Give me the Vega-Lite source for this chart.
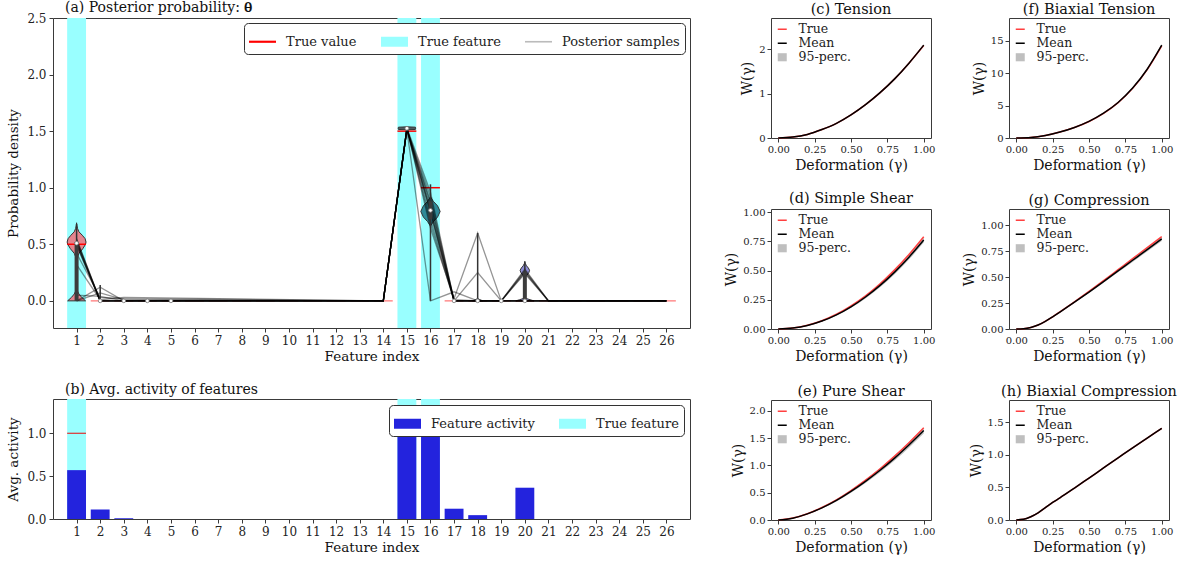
{
"$schema": "https://vega.github.io/schema/vega-lite/v6.json",
"padding": {"left": 6, "top": 0, "right": 4, "bottom": 2},
"config": {
 "font": "DejaVu Serif",
 "view": {"stroke": "#3a3a3a", "strokeWidth": 1},
 "axis": {"grid": false, "domain": false, "tickColor": "#3a3a3a", "tickSize": 4, "labelColor": "#222", "titleColor": "#111", "labelFont": "DejaVu Serif", "titleFont": "DejaVu Serif", "titleFontWeight": "normal", "labelFontSize": 10, "titleFontSize": 14, "labelPadding": 2, "titlePadding": 4, "labelFlush": false, "labelOverlap": false, "tickCount": 40},
 "title": {"font": "DejaVu Serif", "fontWeight": "normal", "fontSize": 14.5, "color": "#111", "offset": 1, "frame": "group"},
 "legend": {"labelFont": "DejaVu Serif", "labelColor": "#222"}
},
"datasets": {
 "truth": [{"f":1,"v":0.5},{"f":2,"v":0},{"f":3,"v":0},{"f":4,"v":0},{"f":5,"v":0},{"f":6,"v":0},{"f":7,"v":0},{"f":8,"v":0},{"f":9,"v":0},{"f":10,"v":0},{"f":11,"v":0},{"f":12,"v":0},{"f":13,"v":0},{"f":14,"v":0},{"f":15,"v":1.5},{"f":16,"v":1.0},{"f":17,"v":0},{"f":18,"v":0},{"f":19,"v":0},{"f":20,"v":0},{"f":21,"v":0},{"f":22,"v":0},{"f":23,"v":0},{"f":24,"v":0},{"f":25,"v":0},{"f":26,"v":0}],
 "truefeat": [{"f":1},{"f":15},{"f":16}],
 "samples": [
  {"s":1,"f":1,"v":0.52},{"s":1,"f":2,"v":0},{"s":1,"f":3,"v":0},{"s":1,"f":14,"v":0},{"s":1,"f":15,"v":1.52},{"s":1,"f":16,"v":0.8},{"s":1,"f":17,"v":0},{"s":1,"f":18,"v":0},{"s":1,"f":19,"v":0},{"s":1,"f":20,"v":0},{"s":1,"f":21,"v":0},{"s":1,"f":26,"v":0},
  {"s":2,"f":1,"v":0.5},{"s":2,"f":2,"v":0},{"s":2,"f":3,"v":0},{"s":2,"f":14,"v":0},{"s":2,"f":15,"v":1.52},{"s":2,"f":16,"v":0.77},{"s":2,"f":17,"v":0},{"s":2,"f":18,"v":0},{"s":2,"f":19,"v":0},{"s":2,"f":20,"v":0.25},{"s":2,"f":21,"v":0},{"s":2,"f":26,"v":0},
  {"s":3,"f":1,"v":0.55},{"s":3,"f":2,"v":0},{"s":3,"f":3,"v":0},{"s":3,"f":14,"v":0},{"s":3,"f":15,"v":1.52},{"s":3,"f":16,"v":0.86},{"s":3,"f":17,"v":0},{"s":3,"f":18,"v":0},{"s":3,"f":19,"v":0},{"s":3,"f":20,"v":0},{"s":3,"f":21,"v":0},{"s":3,"f":26,"v":0},
  {"s":4,"f":1,"v":0.53},{"s":4,"f":2,"v":0},{"s":4,"f":3,"v":0},{"s":4,"f":14,"v":0},{"s":4,"f":15,"v":1.52},{"s":4,"f":16,"v":0.72},{"s":4,"f":17,"v":0},{"s":4,"f":18,"v":0},{"s":4,"f":19,"v":0},{"s":4,"f":20,"v":0.26},{"s":4,"f":21,"v":0},{"s":4,"f":26,"v":0},
  {"s":5,"f":1,"v":0.49},{"s":5,"f":2,"v":0},{"s":5,"f":3,"v":0},{"s":5,"f":14,"v":0},{"s":5,"f":15,"v":1.52},{"s":5,"f":16,"v":0.92},{"s":5,"f":17,"v":0},{"s":5,"f":18,"v":0},{"s":5,"f":19,"v":0},{"s":5,"f":20,"v":0},{"s":5,"f":21,"v":0},{"s":5,"f":26,"v":0},
  {"s":6,"f":1,"v":0.51},{"s":6,"f":2,"v":0},{"s":6,"f":3,"v":0},{"s":6,"f":14,"v":0},{"s":6,"f":15,"v":1.52},{"s":6,"f":16,"v":0.83},{"s":6,"f":17,"v":0},{"s":6,"f":18,"v":0},{"s":6,"f":19,"v":0},{"s":6,"f":20,"v":0.24},{"s":6,"f":21,"v":0},{"s":6,"f":26,"v":0},
  {"s":7,"f":1,"v":0},{"s":7,"f":2,"v":0.12},{"s":7,"f":3,"v":0},{"s":7,"f":14,"v":0},{"s":7,"f":15,"v":1.52},{"s":7,"f":16,"v":0.68},{"s":7,"f":17,"v":0},{"s":7,"f":18,"v":0},{"s":7,"f":19,"v":0},{"s":7,"f":20,"v":0},{"s":7,"f":21,"v":0},{"s":7,"f":26,"v":0},
  {"s":8,"f":1,"v":0},{"s":8,"f":2,"v":0.07},{"s":8,"f":3,"v":0.01},{"s":8,"f":14,"v":0},{"s":8,"f":15,"v":1.53},{"s":8,"f":16,"v":0.96},{"s":8,"f":17,"v":0},{"s":8,"f":18,"v":0},{"s":8,"f":19,"v":0},{"s":8,"f":20,"v":0.28},{"s":8,"f":21,"v":0},{"s":8,"f":26,"v":0},
  {"s":9,"f":1,"v":0.42},{"s":9,"f":2,"v":0.03},{"s":9,"f":3,"v":0.02},{"s":9,"f":14,"v":0},{"s":9,"f":15,"v":1.52},{"s":9,"f":16,"v":0.64},{"s":9,"f":17,"v":0.02},{"s":9,"f":18,"v":0.6},{"s":9,"f":19,"v":0},{"s":9,"f":20,"v":0},{"s":9,"f":21,"v":0},{"s":9,"f":26,"v":0},
  {"s":10,"f":1,"v":0.32},{"s":10,"f":2,"v":0.01},{"s":10,"f":3,"v":0.03},{"s":10,"f":14,"v":0},{"s":10,"f":15,"v":1.51},{"s":10,"f":16,"v":0},{"s":10,"f":17,"v":0.08},{"s":10,"f":18,"v":0},{"s":10,"f":19,"v":0},{"s":10,"f":20,"v":0},{"s":10,"f":21,"v":0},{"s":10,"f":26,"v":0},
  {"s":11,"f":1,"v":0.54},{"s":11,"f":2,"v":0},{"s":11,"f":3,"v":0},{"s":11,"f":14,"v":0},{"s":11,"f":15,"v":1.52},{"s":11,"f":16,"v":0.79},{"s":11,"f":17,"v":0},{"s":11,"f":18,"v":0.25},{"s":11,"f":19,"v":0},{"s":11,"f":20,"v":0},{"s":11,"f":21,"v":0},{"s":11,"f":26,"v":0},
  {"s":12,"f":1,"v":0.05},{"s":12,"f":2,"v":0.04},{"s":12,"f":3,"v":0},{"s":12,"f":14,"v":0},{"s":12,"f":15,"v":1.52},{"s":12,"f":16,"v":0.88},{"s":12,"f":17,"v":0.01},{"s":12,"f":18,"v":0},{"s":12,"f":19,"v":0},{"s":12,"f":20,"v":0.27},{"s":12,"f":21,"v":0},{"s":12,"f":26,"v":0}
 ],
 "violin": [
  {"vid":1,"f":1,"y":0,"hw":0.38},{"vid":1,"f":1,"y":0.03,"hw":0.22},{"vid":1,"f":1,"y":0.06,"hw":0.1},{"vid":1,"f":1,"y":0.09,"hw":0.03},{"vid":1,"f":1,"y":0.12,"hw":0.008},{"vid":1,"f":1,"y":0.3,"hw":0.004},{"vid":1,"f":1,"y":0.38,"hw":0.02},{"vid":1,"f":1,"y":0.42,"hw":0.1},{"vid":1,"f":1,"y":0.46,"hw":0.26},{"vid":1,"f":1,"y":0.5,"hw":0.38},{"vid":1,"f":1,"y":0.52,"hw":0.4},{"vid":1,"f":1,"y":0.55,"hw":0.36},{"vid":1,"f":1,"y":0.58,"hw":0.24},{"vid":1,"f":1,"y":0.61,"hw":0.1},{"vid":1,"f":1,"y":0.64,"hw":0.04},{"vid":1,"f":1,"y":0.67,"hw":0.01},{"vid":1,"f":1,"y":0.69,"hw":0},
  {"vid":15,"f":15,"y":1.512,"hw":0},{"vid":15,"f":15,"y":1.515,"hw":0.36},{"vid":15,"f":15,"y":1.525,"hw":0.37},{"vid":15,"f":15,"y":1.535,"hw":0.36},{"vid":15,"f":15,"y":1.538,"hw":0},
  {"vid":16,"f":16,"y":0.66,"hw":0},{"vid":16,"f":16,"y":0.7,"hw":0.12},{"vid":16,"f":16,"y":0.74,"hw":0.3},{"vid":16,"f":16,"y":0.79,"hw":0.41},{"vid":16,"f":16,"y":0.84,"hw":0.3},{"vid":16,"f":16,"y":0.88,"hw":0.12},{"vid":16,"f":16,"y":0.92,"hw":0},
  {"vid":18,"f":18,"y":0,"hw":0.22},{"vid":18,"f":18,"y":0.01,"hw":0.1},{"vid":18,"f":18,"y":0.02,"hw":0},
  {"vid":20,"f":20,"y":0,"hw":0.38},{"vid":20,"f":20,"y":0.01,"hw":0.22},{"vid":20,"f":20,"y":0.02,"hw":0.07},{"vid":20,"f":20,"y":0.03,"hw":0.01},{"vid":20,"f":20,"y":0.2,"hw":0.005},{"vid":20,"f":20,"y":0.22,"hw":0.06},{"vid":20,"f":20,"y":0.25,"hw":0.17},{"vid":20,"f":20,"y":0.27,"hw":0.2},{"vid":20,"f":20,"y":0.29,"hw":0.15},{"vid":20,"f":20,"y":0.31,"hw":0.07},{"vid":20,"f":20,"y":0.33,"hw":0.02},{"vid":20,"f":20,"y":0.35,"hw":0}
 ],
 "whisker": [{"f":1,"lo":0,"hi":0.68},{"f":2,"lo":0,"hi":0.14},{"f":15,"lo":1.5,"hi":1.545},{"f":16,"lo":0,"hi":1.03},{"f":18,"lo":0,"hi":0.6},{"f":20,"lo":0,"hi":0.34}],
 "box": [{"f":1,"lo":0,"hi":0.52},{"f":16,"lo":0.72,"hi":0.88},{"f":20,"lo":0,"hi":0.26}],
 "median": [{"f":1,"v":0.51},{"f":2,"v":0},{"f":3,"v":0},{"f":4,"v":0},{"f":5,"v":0},{"f":15,"v":1.525},{"f":16,"v":0.8},{"f":17,"v":0},{"f":18,"v":0},{"f":19,"v":0},{"f":20,"v":0}],
 "activity": [{"f":1,"v":0.57},{"f":2,"v":0.11},{"f":3,"v":0.01},{"f":4,"v":0},{"f":5,"v":0},{"f":6,"v":0},{"f":7,"v":0},{"f":8,"v":0},{"f":9,"v":0},{"f":10,"v":0},{"f":11,"v":0},{"f":12,"v":0},{"f":13,"v":0},{"f":14,"v":0},{"f":15,"v":1.0},{"f":16,"v":0.99},{"f":17,"v":0.12},{"f":18,"v":0.045},{"f":19,"v":0},{"f":20,"v":0.365},{"f":21,"v":0},{"f":22,"v":0},{"f":23,"v":0},{"f":24,"v":0},{"f":25,"v":0},{"f":26,"v":0}],
 "curves": [
  {"p":"c","g":0,"t":0,"m":0,"lo":0,"hi":0},{"p":"c","g":0.1,"t":0.02,"m":0.02,"lo":0.015,"hi":0.025},{"p":"c","g":0.2,"t":0.08,"m":0.08,"lo":0.075,"hi":0.085},{"p":"c","g":0.3,"t":0.19,"m":0.19,"lo":0.183,"hi":0.197},{"p":"c","g":0.4,"t":0.33,"m":0.33,"lo":0.322,"hi":0.338},{"p":"c","g":0.5,"t":0.52,"m":0.52,"lo":0.51,"hi":0.53},{"p":"c","g":0.6,"t":0.75,"m":0.75,"lo":0.74,"hi":0.76},{"p":"c","g":0.7,"t":1.02,"m":1.02,"lo":1.008,"hi":1.032},{"p":"c","g":0.8,"t":1.33,"m":1.33,"lo":1.316,"hi":1.344},{"p":"c","g":0.9,"t":1.69,"m":1.69,"lo":1.674,"hi":1.706},{"p":"c","g":1.0,"t":2.08,"m":2.09,"lo":2.07,"hi":2.11},
  {"p":"f","g":0,"t":0,"m":0,"lo":0,"hi":0},{"p":"f","g":0.1,"t":0.08,"m":0.08,"lo":0.07,"hi":0.09},{"p":"f","g":0.2,"t":0.38,"m":0.38,"lo":0.36,"hi":0.4},{"p":"f","g":0.3,"t":0.92,"m":0.92,"lo":0.89,"hi":0.95},{"p":"f","g":0.4,"t":1.62,"m":1.63,"lo":1.59,"hi":1.67},{"p":"f","g":0.5,"t":2.55,"m":2.56,"lo":2.51,"hi":2.61},{"p":"f","g":0.6,"t":3.8,"m":3.82,"lo":3.76,"hi":3.88},{"p":"f","g":0.7,"t":5.45,"m":5.48,"lo":5.41,"hi":5.55},{"p":"f","g":0.8,"t":7.65,"m":7.7,"lo":7.61,"hi":7.79},{"p":"f","g":0.9,"t":10.55,"m":10.6,"lo":10.49,"hi":10.71},{"p":"f","g":1.0,"t":14.2,"m":14.3,"lo":14.15,"hi":14.45},
  {"p":"d","g":0,"t":0,"m":0,"lo":0,"hi":0},{"p":"d","g":0.1,"t":0.008,"m":0.008,"lo":0.007,"hi":0.009},{"p":"d","g":0.2,"t":0.032,"m":0.03,"lo":0.028,"hi":0.032},{"p":"d","g":0.3,"t":0.071,"m":0.068,"lo":0.064,"hi":0.072},{"p":"d","g":0.4,"t":0.126,"m":0.121,"lo":0.115,"hi":0.127},{"p":"d","g":0.5,"t":0.198,"m":0.19,"lo":0.181,"hi":0.198},{"p":"d","g":0.6,"t":0.284,"m":0.274,"lo":0.262,"hi":0.285},{"p":"d","g":0.7,"t":0.387,"m":0.373,"lo":0.358,"hi":0.387},{"p":"d","g":0.8,"t":0.506,"m":0.487,"lo":0.469,"hi":0.504},{"p":"d","g":0.9,"t":0.64,"m":0.617,"lo":0.596,"hi":0.637},{"p":"d","g":1.0,"t":0.79,"m":0.762,"lo":0.74,"hi":0.783},
  {"p":"g","g":0,"t":0,"m":0,"lo":0,"hi":0},{"p":"g","g":0.05,"t":0.003,"m":0.003,"lo":0.002,"hi":0.004},{"p":"g","g":0.1,"t":0.015,"m":0.015,"lo":0.013,"hi":0.017},{"p":"g","g":0.15,"t":0.038,"m":0.038,"lo":0.035,"hi":0.041},{"p":"g","g":0.2,"t":0.075,"m":0.074,"lo":0.07,"hi":0.078},{"p":"g","g":0.25,"t":0.118,"m":0.117,"lo":0.112,"hi":0.122},{"p":"g","g":0.3,"t":0.165,"m":0.163,"lo":0.157,"hi":0.169},{"p":"g","g":0.4,"t":0.262,"m":0.258,"lo":0.25,"hi":0.266},{"p":"g","g":0.5,"t":0.362,"m":0.356,"lo":0.346,"hi":0.366},{"p":"g","g":0.6,"t":0.466,"m":0.457,"lo":0.445,"hi":0.469},{"p":"g","g":0.7,"t":0.572,"m":0.56,"lo":0.546,"hi":0.574},{"p":"g","g":0.8,"t":0.678,"m":0.663,"lo":0.647,"hi":0.679},{"p":"g","g":0.9,"t":0.785,"m":0.766,"lo":0.748,"hi":0.784},{"p":"g","g":1.0,"t":0.89,"m":0.868,"lo":0.848,"hi":0.888},
  {"p":"e","g":0,"t":0,"m":0,"lo":0,"hi":0},{"p":"e","g":0.1,"t":0.035,"m":0.034,"lo":0.031,"hi":0.037},{"p":"e","g":0.2,"t":0.115,"m":0.112,"lo":0.105,"hi":0.119},{"p":"e","g":0.3,"t":0.23,"m":0.223,"lo":0.21,"hi":0.236},{"p":"e","g":0.4,"t":0.37,"m":0.36,"lo":0.34,"hi":0.38},{"p":"e","g":0.5,"t":0.54,"m":0.525,"lo":0.5,"hi":0.55},{"p":"e","g":0.6,"t":0.73,"m":0.71,"lo":0.68,"hi":0.74},{"p":"e","g":0.7,"t":0.94,"m":0.912,"lo":0.875,"hi":0.95},{"p":"e","g":0.8,"t":1.17,"m":1.135,"lo":1.09,"hi":1.18},{"p":"e","g":0.9,"t":1.42,"m":1.38,"lo":1.33,"hi":1.43},{"p":"e","g":1.0,"t":1.69,"m":1.64,"lo":1.585,"hi":1.695},
  {"p":"h","g":0,"t":0,"m":0,"lo":0,"hi":0},{"p":"h","g":0.05,"t":0.01,"m":0.01,"lo":0.008,"hi":0.012},{"p":"h","g":0.1,"t":0.05,"m":0.05,"lo":0.046,"hi":0.054},{"p":"h","g":0.15,"t":0.11,"m":0.11,"lo":0.105,"hi":0.115},{"p":"h","g":0.2,"t":0.19,"m":0.19,"lo":0.185,"hi":0.195},{"p":"h","g":0.25,"t":0.27,"m":0.27,"lo":0.265,"hi":0.275},{"p":"h","g":0.3,"t":0.34,"m":0.34,"lo":0.335,"hi":0.345},{"p":"h","g":0.4,"t":0.49,"m":0.49,"lo":0.485,"hi":0.495},{"p":"h","g":0.5,"t":0.645,"m":0.645,"lo":0.64,"hi":0.65},{"p":"h","g":0.6,"t":0.8,"m":0.8,"lo":0.795,"hi":0.805},{"p":"h","g":0.7,"t":0.955,"m":0.955,"lo":0.95,"hi":0.96},{"p":"h","g":0.8,"t":1.11,"m":1.11,"lo":1.105,"hi":1.115},{"p":"h","g":0.9,"t":1.26,"m":1.26,"lo":1.255,"hi":1.265},{"p":"h","g":1.0,"t":1.41,"m":1.41,"lo":1.405,"hi":1.415}
 ]
},
"hconcat": [
 {
  "vconcat": [
   {
    "width": 637, "height": 310,
    "title": {"text": "(a) Posterior  probability: 𝛉", "anchor": "start", "dx": 12, "offset": -3, "fontSize": 14},
    "layer": [
     {
      "data": {"name": "truefeat"},
      "transform": [{"calculate": "datum.f - 0.4", "as": "lo"}, {"calculate": "datum.f + 0.4", "as": "hi"}],
      "mark": {"type": "rect"},
      "encoding": {
       "x": {"field": "lo", "type": "quantitative", "title": "Feature index", "scale": {"domain": [0, 27], "nice": false, "zero": false}, "axis": {"values": [1,2,3,4,5,6,7,8,9,10,11,12,13,14,15,16,17,18,19,20,21,22,23,24,25,26], "format": "d", "tickCount": 40, "labelFontSize": 12, "titleFontSize": 13.5, "titlePadding": 3, "labelPadding": 3, "labelOverlap": false}},
       "x2": {"field": "hi"},
       "color": {"datum": "True feature", "type": "nominal",
        "scale": {"domain": ["True value", "True feature", "Posterior samples"], "range": ["#FF0000", "#99FFFF", "#BBBBBB"]},
        "legend": {"title": null, "orient": "top-right", "direction": "horizontal", "offset": 5, "padding": 5, "strokeColor": "#333", "cornerRadius": 4, "fillColor": "#FFFFFF", "labelFontSize": 13, "columnPadding": 24, "symbolSize": 729, "symbolStrokeWidth": 0, "labelOffset": 10, "symbolOpacity": 1}
       }
      }
     },
     {
      "data": {"name": "violin"},
      "transform": [{"calculate": "datum.f - datum.hw", "as": "lo"}, {"calculate": "datum.f + datum.hw", "as": "hi"}],
      "mark": {"type": "area", "orient": "horizontal", "stroke": "#333", "strokeWidth": 1, "opacity": 1},
      "encoding": {
       "y": {"field": "y", "type": "quantitative", "title": "Probability density", "scale": {"domain": [-0.24, 2.5], "nice": false, "zero": false}, "axis": {"values": [0, 0.5, 1, 1.5, 2, 2.5], "tickCount": 40, "format": ".1f", "labelFontSize": 12, "titleFontSize": 13.5, "labelPadding": 3, "titlePadding": 6}},
       "x": {"field": "lo", "type": "quantitative", "title": "Feature index", "stack": null},
       "x2": {"field": "hi"},
       "fill": {"field": "vid", "type": "nominal", "scale": {"domain": [1, 15, 16, 18, 20], "range": ["#E4848E", "#505A60", "#2F8A98", "#4F7DBE", "#8E8ED6"]}, "legend": null}
      }
     },
     {
      "data": {"name": "truth"},
      "transform": [{"calculate": "datum.f - 0.4", "as": "lo"}, {"calculate": "datum.f + 0.4", "as": "hi"}],
      "mark": {"type": "rule", "strokeWidth": 1.5},
      "encoding": {
       "x": {"field": "lo", "type": "quantitative", "title": "Feature index"},
       "x2": {"field": "hi"},
       "y": {"field": "v", "type": "quantitative", "title": "Probability density"},
       "color": {"datum": "True value", "type": "nominal"},
       "opacity": {"condition": {"test": "datum.v > 0", "value": 1}, "value": 0.45}
      }
     },
     {
      "data": {"name": "samples"},
      "mark": {"type": "line", "stroke": "#000000", "strokeWidth": 1.3, "opacity": 0.42},
      "encoding": {
       "x": {"field": "f", "type": "quantitative", "title": "Feature index"},
       "y": {"field": "v", "type": "quantitative", "title": "Probability density"},
       "detail": {"field": "s", "type": "nominal"}
      }
     },
     {
      "data": {"name": "whisker"},
      "mark": {"type": "rule", "strokeWidth": 1.5, "color": "#333333"},
      "encoding": {
       "x": {"field": "f", "type": "quantitative", "title": "Feature index"},
       "y": {"field": "lo", "type": "quantitative", "title": "Probability density"},
       "y2": {"field": "hi"}
      }
     },
     {
      "data": {"name": "box"},
      "mark": {"type": "rule", "strokeWidth": 4, "color": "#3c3c3c"},
      "encoding": {
       "x": {"field": "f", "type": "quantitative", "title": "Feature index"},
       "y": {"field": "lo", "type": "quantitative", "title": "Probability density"},
       "y2": {"field": "hi"}
      }
     },
     {
      "data": {"name": "median"},
      "mark": {"type": "point", "filled": true, "fill": "#FFFFFF", "stroke": "#777777", "strokeWidth": 0.8, "size": 14, "opacity": 1},
      "encoding": {
       "x": {"field": "f", "type": "quantitative", "title": "Feature index"},
       "y": {"field": "v", "type": "quantitative", "title": "Probability density"}
      }
     },
     {
      "data": {"name": "truefeat"},
      "mark": {"type": "point", "filled": true, "opacity": 0, "size": 1},
      "encoding": {
       "x": {"field": "f", "type": "quantitative", "title": "Feature index"},
       "y": {"datum": 0, "type": "quantitative"},
       "color": {"datum": "True feature", "type": "nominal"},
       "shape": {"datum": "True feature", "type": "nominal",
        "scale": {"domain": ["True value", "True feature", "Posterior samples"], "range": ["M-1,-0.08H1V0.08H-1Z", "M-1,-0.37H1V0.37H-1Z", "M-1,-0.06H1V0.06H-1Z"]},
        "legend": {"title": null, "orient": "top-right", "direction": "horizontal", "offset": 5, "padding": 5, "strokeColor": "#333", "cornerRadius": 4, "fillColor": "#FFFFFF", "labelFontSize": 13, "columnPadding": 24, "symbolSize": 729, "symbolStrokeWidth": 0, "labelOffset": 10, "symbolOpacity": 1}
       }
      }
     }
    ]
   },
   {
    "width": 637, "height": 120,
    "title": {"text": "(b) Avg. activity of features", "anchor": "start", "dx": 12, "offset": 2, "fontSize": 14},
    "layer": [
     {
      "data": {"name": "truefeat"},
      "transform": [{"calculate": "datum.f - 0.4", "as": "lo"}, {"calculate": "datum.f + 0.4", "as": "hi"}],
      "mark": {"type": "rect"},
      "encoding": {
       "x": {"field": "lo", "type": "quantitative", "title": "Feature index", "scale": {"domain": [0, 27], "nice": false, "zero": false}, "axis": {"values": [1,2,3,4,5,6,7,8,9,10,11,12,13,14,15,16,17,18,19,20,21,22,23,24,25,26], "format": "d", "tickCount": 40, "labelFontSize": 12, "titleFontSize": 13.5, "titlePadding": 3, "labelPadding": 3, "labelOverlap": false}},
       "x2": {"field": "hi"},
       "color": {"datum": "True feature", "type": "nominal",
        "scale": {"domain": ["Feature activity", "True feature"], "range": ["#2323DD", "#99FFFF"]},
        "legend": {"title": null, "orient": "top-right", "direction": "horizontal", "offset": 6, "padding": 5, "strokeColor": "#333", "cornerRadius": 4, "fillColor": "#FFFFFF", "labelFontSize": 13, "columnPadding": 24, "symbolType": "M-1,-0.37H1V0.37H-1Z", "symbolSize": 729, "symbolStrokeWidth": 0, "labelOffset": 10, "symbolOpacity": 1}
       }
      }
     },
     {
      "data": {"name": "activity"},
      "transform": [{"calculate": "datum.f - 0.4", "as": "lo"}, {"calculate": "datum.f + 0.4", "as": "hi"}],
      "mark": {"type": "rect"},
      "encoding": {
       "x": {"field": "lo", "type": "quantitative", "title": "Feature index"},
       "x2": {"field": "hi"},
       "y": {"field": "v", "type": "quantitative", "title": "Avg. activity", "scale": {"domain": [0, 1.4], "nice": false}, "axis": {"values": [0, 0.5, 1.0], "tickCount": 40, "format": ".1f", "labelFontSize": 12, "titleFontSize": 13.5, "labelPadding": 3, "titlePadding": 6}},
       "y2": {"datum": 0},
       "color": {"datum": "Feature activity", "type": "nominal"}
      }
     },
     {
      "data": {"name": "truefeat"},
      "transform": [{"calculate": "datum.f - 0.4", "as": "lo"}, {"calculate": "datum.f + 0.4", "as": "hi"}],
      "mark": {"type": "rule", "strokeWidth": 1.2, "color": "#E03030"},
      "encoding": {
       "x": {"field": "lo", "type": "quantitative", "title": "Feature index"},
       "x2": {"field": "hi"},
       "y": {"datum": 1.0, "type": "quantitative"}
      }
     }
    ]
   }
  ],
  "spacing": 71, "bounds": "flush",
  "resolve": {"scale": {"color": "independent", "fill": "independent", "shape": "independent"}, "legend": {"color": "independent", "fill": "independent", "shape": "independent"}}
 },
 {
  "concat": [
   {
    "width": 160, "height": 120, "title": {"text": "(c) Tension"},
    "data": {"name": "curves"}, "transform": [{"filter": "datum.p === 'c'"}],
    "encoding": {"x": {"field": "g", "type": "quantitative", "title": "Deformation (γ)", "scale": {"domain": [-0.05, 1.05], "nice": false, "zero": false}, "axis": {"values": [0, 0.25, 0.5, 0.75, 1], "tickCount": 40, "format": ".2f"}}},
    "layer": [
     {"mark": {"type": "area", "interpolate": "monotone", "opacity": 1},
      "encoding": {"y": {"field": "lo", "type": "quantitative", "title": "W(γ)", "scale": {"domain": [0, 2.7], "nice": false}, "axis": {"values": [0, 1, 2], "tickCount": 40, "format": "d"}}, "y2": {"field": "hi"},
       "color": {"datum": "95-perc.", "type": "nominal", "scale": {"domain": ["True", "Mean", "95-perc."], "range": ["#FF4040", "#000000", "#BFBFBF"]},
        "legend": {"title": null, "orient": "top-left", "offset": 3, "padding": 2, "labelFontSize": 12.5, "symbolSize": 81, "rowPadding": 1, "labelOffset": 10, "symbolOpacity": 1, "symbolStrokeWidth": 0}}}},
     {"mark": {"type": "line", "interpolate": "monotone", "strokeWidth": 1.5}, "encoding": {"y": {"field": "t", "type": "quantitative", "title": "W(γ)"}, "color": {"datum": "True", "type": "nominal"}}},
     {"mark": {"type": "line", "interpolate": "monotone", "strokeWidth": 1.5}, "encoding": {"y": {"field": "m", "type": "quantitative", "title": "W(γ)"}, "color": {"datum": "Mean", "type": "nominal"}}},
     {"mark": {"type": "point", "filled": true, "opacity": 0, "size": 1}, "encoding": {"y": {"field": "m", "type": "quantitative", "title": "W(γ)"}, "color": {"datum": "Mean", "type": "nominal"},
      "shape": {"datum": "Mean", "type": "nominal", "scale": {"domain": ["True", "Mean", "95-perc."], "range": ["M-1,-0.17H1V0.17H-1Z", "M-1,-0.17H1V0.17H-1Z", "M-1,-0.9H1V0.9H-1Z"]},
       "legend": {"title": null, "orient": "top-left", "offset": 3, "padding": 2, "labelFontSize": 12.5, "symbolSize": 81, "rowPadding": 1, "labelOffset": 10, "symbolOpacity": 1, "symbolStrokeWidth": 0}}}}
    ]
   },
   {
    "width": 160, "height": 120, "title": {"text": "(f) Biaxial Tension"},
    "data": {"name": "curves"}, "transform": [{"filter": "datum.p === 'f'"}],
    "encoding": {"x": {"field": "g", "type": "quantitative", "title": "Deformation (γ)", "scale": {"domain": [-0.05, 1.05], "nice": false, "zero": false}, "axis": {"values": [0, 0.25, 0.5, 0.75, 1], "tickCount": 40, "format": ".2f"}}},
    "layer": [
     {"mark": {"type": "area", "interpolate": "monotone", "opacity": 1},
      "encoding": {"y": {"field": "lo", "type": "quantitative", "title": "W(γ)", "scale": {"domain": [0, 18.5], "nice": false}, "axis": {"values": [0, 5, 10, 15], "tickCount": 40, "format": "d"}}, "y2": {"field": "hi"},
       "color": {"datum": "95-perc.", "type": "nominal", "scale": {"domain": ["True", "Mean", "95-perc."], "range": ["#FF4040", "#000000", "#BFBFBF"]},
        "legend": {"title": null, "orient": "top-left", "offset": 3, "padding": 2, "labelFontSize": 12.5, "symbolSize": 81, "rowPadding": 1, "labelOffset": 10, "symbolOpacity": 1, "symbolStrokeWidth": 0}}}},
     {"mark": {"type": "line", "interpolate": "monotone", "strokeWidth": 1.5}, "encoding": {"y": {"field": "t", "type": "quantitative", "title": "W(γ)"}, "color": {"datum": "True", "type": "nominal"}}},
     {"mark": {"type": "line", "interpolate": "monotone", "strokeWidth": 1.5}, "encoding": {"y": {"field": "m", "type": "quantitative", "title": "W(γ)"}, "color": {"datum": "Mean", "type": "nominal"}}},
     {"mark": {"type": "point", "filled": true, "opacity": 0, "size": 1}, "encoding": {"y": {"field": "m", "type": "quantitative", "title": "W(γ)"}, "color": {"datum": "Mean", "type": "nominal"},
      "shape": {"datum": "Mean", "type": "nominal", "scale": {"domain": ["True", "Mean", "95-perc."], "range": ["M-1,-0.17H1V0.17H-1Z", "M-1,-0.17H1V0.17H-1Z", "M-1,-0.9H1V0.9H-1Z"]},
       "legend": {"title": null, "orient": "top-left", "offset": 3, "padding": 2, "labelFontSize": 12.5, "symbolSize": 81, "rowPadding": 1, "labelOffset": 10, "symbolOpacity": 1, "symbolStrokeWidth": 0}}}}
    ]
   },
   {
    "width": 160, "height": 120, "title": {"text": "(d) Simple Shear"},
    "data": {"name": "curves"}, "transform": [{"filter": "datum.p === 'd'"}],
    "encoding": {"x": {"field": "g", "type": "quantitative", "title": "Deformation (γ)", "scale": {"domain": [-0.05, 1.05], "nice": false, "zero": false}, "axis": {"values": [0, 0.25, 0.5, 0.75, 1], "tickCount": 40, "format": ".2f"}}},
    "layer": [
     {"mark": {"type": "area", "interpolate": "monotone", "opacity": 1},
      "encoding": {"y": {"field": "lo", "type": "quantitative", "title": "W(γ)", "scale": {"domain": [0, 1.027], "nice": false}, "axis": {"values": [0, 0.25, 0.5, 0.75, 1], "tickCount": 40, "format": ".2f"}}, "y2": {"field": "hi"},
       "color": {"datum": "95-perc.", "type": "nominal", "scale": {"domain": ["True", "Mean", "95-perc."], "range": ["#FF4040", "#000000", "#BFBFBF"]},
        "legend": {"title": null, "orient": "top-left", "offset": 3, "padding": 2, "labelFontSize": 12.5, "symbolSize": 81, "rowPadding": 1, "labelOffset": 10, "symbolOpacity": 1, "symbolStrokeWidth": 0}}}},
     {"mark": {"type": "line", "interpolate": "monotone", "strokeWidth": 1.5}, "encoding": {"y": {"field": "t", "type": "quantitative", "title": "W(γ)"}, "color": {"datum": "True", "type": "nominal"}}},
     {"mark": {"type": "line", "interpolate": "monotone", "strokeWidth": 1.5}, "encoding": {"y": {"field": "m", "type": "quantitative", "title": "W(γ)"}, "color": {"datum": "Mean", "type": "nominal"}}},
     {"mark": {"type": "point", "filled": true, "opacity": 0, "size": 1}, "encoding": {"y": {"field": "m", "type": "quantitative", "title": "W(γ)"}, "color": {"datum": "Mean", "type": "nominal"},
      "shape": {"datum": "Mean", "type": "nominal", "scale": {"domain": ["True", "Mean", "95-perc."], "range": ["M-1,-0.17H1V0.17H-1Z", "M-1,-0.17H1V0.17H-1Z", "M-1,-0.9H1V0.9H-1Z"]},
       "legend": {"title": null, "orient": "top-left", "offset": 3, "padding": 2, "labelFontSize": 12.5, "symbolSize": 81, "rowPadding": 1, "labelOffset": 10, "symbolOpacity": 1, "symbolStrokeWidth": 0}}}}
    ]
   },
   {
    "width": 160, "height": 120, "title": {"text": "(g) Compression"},
    "data": {"name": "curves"}, "transform": [{"filter": "datum.p === 'g'"}],
    "encoding": {"x": {"field": "g", "type": "quantitative", "title": "Deformation (γ)", "scale": {"domain": [-0.05, 1.05], "nice": false, "zero": false}, "axis": {"values": [0, 0.25, 0.5, 0.75, 1], "tickCount": 40, "format": ".2f"}}},
    "layer": [
     {"mark": {"type": "area", "interpolate": "monotone", "opacity": 1},
      "encoding": {"y": {"field": "lo", "type": "quantitative", "title": "W(γ)", "scale": {"domain": [0, 1.157], "nice": false}, "axis": {"values": [0, 0.25, 0.5, 0.75, 1], "tickCount": 40, "format": ".2f"}}, "y2": {"field": "hi"},
       "color": {"datum": "95-perc.", "type": "nominal", "scale": {"domain": ["True", "Mean", "95-perc."], "range": ["#FF4040", "#000000", "#BFBFBF"]},
        "legend": {"title": null, "orient": "top-left", "offset": 3, "padding": 2, "labelFontSize": 12.5, "symbolSize": 81, "rowPadding": 1, "labelOffset": 10, "symbolOpacity": 1, "symbolStrokeWidth": 0}}}},
     {"mark": {"type": "line", "interpolate": "monotone", "strokeWidth": 1.5}, "encoding": {"y": {"field": "t", "type": "quantitative", "title": "W(γ)"}, "color": {"datum": "True", "type": "nominal"}}},
     {"mark": {"type": "line", "interpolate": "monotone", "strokeWidth": 1.5}, "encoding": {"y": {"field": "m", "type": "quantitative", "title": "W(γ)"}, "color": {"datum": "Mean", "type": "nominal"}}},
     {"mark": {"type": "point", "filled": true, "opacity": 0, "size": 1}, "encoding": {"y": {"field": "m", "type": "quantitative", "title": "W(γ)"}, "color": {"datum": "Mean", "type": "nominal"},
      "shape": {"datum": "Mean", "type": "nominal", "scale": {"domain": ["True", "Mean", "95-perc."], "range": ["M-1,-0.17H1V0.17H-1Z", "M-1,-0.17H1V0.17H-1Z", "M-1,-0.9H1V0.9H-1Z"]},
       "legend": {"title": null, "orient": "top-left", "offset": 3, "padding": 2, "labelFontSize": 12.5, "symbolSize": 81, "rowPadding": 1, "labelOffset": 10, "symbolOpacity": 1, "symbolStrokeWidth": 0}}}}
    ]
   },
   {
    "width": 160, "height": 120, "title": {"text": "(e) Pure Shear"},
    "data": {"name": "curves"}, "transform": [{"filter": "datum.p === 'e'"}],
    "encoding": {"x": {"field": "g", "type": "quantitative", "title": "Deformation (γ)", "scale": {"domain": [-0.05, 1.05], "nice": false, "zero": false}, "axis": {"values": [0, 0.25, 0.5, 0.75, 1], "tickCount": 40, "format": ".2f"}}},
    "layer": [
     {"mark": {"type": "area", "interpolate": "monotone", "opacity": 1},
      "encoding": {"y": {"field": "lo", "type": "quantitative", "title": "W(γ)", "scale": {"domain": [0, 2.2], "nice": false}, "axis": {"values": [0, 0.5, 1, 1.5, 2], "tickCount": 40, "format": ".1f"}}, "y2": {"field": "hi"},
       "color": {"datum": "95-perc.", "type": "nominal", "scale": {"domain": ["True", "Mean", "95-perc."], "range": ["#FF4040", "#000000", "#BFBFBF"]},
        "legend": {"title": null, "orient": "top-left", "offset": 3, "padding": 2, "labelFontSize": 12.5, "symbolSize": 81, "rowPadding": 1, "labelOffset": 10, "symbolOpacity": 1, "symbolStrokeWidth": 0}}}},
     {"mark": {"type": "line", "interpolate": "monotone", "strokeWidth": 1.5}, "encoding": {"y": {"field": "t", "type": "quantitative", "title": "W(γ)"}, "color": {"datum": "True", "type": "nominal"}}},
     {"mark": {"type": "line", "interpolate": "monotone", "strokeWidth": 1.5}, "encoding": {"y": {"field": "m", "type": "quantitative", "title": "W(γ)"}, "color": {"datum": "Mean", "type": "nominal"}}},
     {"mark": {"type": "point", "filled": true, "opacity": 0, "size": 1}, "encoding": {"y": {"field": "m", "type": "quantitative", "title": "W(γ)"}, "color": {"datum": "Mean", "type": "nominal"},
      "shape": {"datum": "Mean", "type": "nominal", "scale": {"domain": ["True", "Mean", "95-perc."], "range": ["M-1,-0.17H1V0.17H-1Z", "M-1,-0.17H1V0.17H-1Z", "M-1,-0.9H1V0.9H-1Z"]},
       "legend": {"title": null, "orient": "top-left", "offset": 3, "padding": 2, "labelFontSize": 12.5, "symbolSize": 81, "rowPadding": 1, "labelOffset": 10, "symbolOpacity": 1, "symbolStrokeWidth": 0}}}}
    ]
   },
   {
    "width": 160, "height": 120, "title": {"text": "(h) Biaxial Compression"},
    "data": {"name": "curves"}, "transform": [{"filter": "datum.p === 'h'"}],
    "encoding": {"x": {"field": "g", "type": "quantitative", "title": "Deformation (γ)", "scale": {"domain": [-0.05, 1.05], "nice": false, "zero": false}, "axis": {"values": [0, 0.25, 0.5, 0.75, 1], "tickCount": 40, "format": ".2f"}}},
    "layer": [
     {"mark": {"type": "area", "interpolate": "monotone", "opacity": 1},
      "encoding": {"y": {"field": "lo", "type": "quantitative", "title": "W(γ)", "scale": {"domain": [0, 1.845], "nice": false}, "axis": {"values": [0, 0.5, 1, 1.5], "tickCount": 40, "format": ".1f"}}, "y2": {"field": "hi"},
       "color": {"datum": "95-perc.", "type": "nominal", "scale": {"domain": ["True", "Mean", "95-perc."], "range": ["#FF4040", "#000000", "#BFBFBF"]},
        "legend": {"title": null, "orient": "top-left", "offset": 3, "padding": 2, "labelFontSize": 12.5, "symbolSize": 81, "rowPadding": 1, "labelOffset": 10, "symbolOpacity": 1, "symbolStrokeWidth": 0}}}},
     {"mark": {"type": "line", "interpolate": "monotone", "strokeWidth": 1.5}, "encoding": {"y": {"field": "t", "type": "quantitative", "title": "W(γ)"}, "color": {"datum": "True", "type": "nominal"}}},
     {"mark": {"type": "line", "interpolate": "monotone", "strokeWidth": 1.5}, "encoding": {"y": {"field": "m", "type": "quantitative", "title": "W(γ)"}, "color": {"datum": "Mean", "type": "nominal"}}},
     {"mark": {"type": "point", "filled": true, "opacity": 0, "size": 1}, "encoding": {"y": {"field": "m", "type": "quantitative", "title": "W(γ)"}, "color": {"datum": "Mean", "type": "nominal"},
      "shape": {"datum": "Mean", "type": "nominal", "scale": {"domain": ["True", "Mean", "95-perc."], "range": ["M-1,-0.17H1V0.17H-1Z", "M-1,-0.17H1V0.17H-1Z", "M-1,-0.9H1V0.9H-1Z"]},
       "legend": {"title": null, "orient": "top-left", "offset": 3, "padding": 2, "labelFontSize": 12.5, "symbolSize": 81, "rowPadding": 1, "labelOffset": 10, "symbolOpacity": 1, "symbolStrokeWidth": 0}}}}
    ]
   }
  ],
  "columns": 2,
  "spacing": {"row": 71, "column": 78}, "bounds": "flush",
  "resolve": {"scale": {"color": "independent", "shape": "independent"}, "legend": {"color": "independent", "shape": "independent"}}
 }
],
"spacing": 33,
"resolve": {"scale": {"color": "independent", "fill": "independent", "shape": "independent"}, "legend": {"color": "independent", "fill": "independent", "shape": "independent"}}
}
